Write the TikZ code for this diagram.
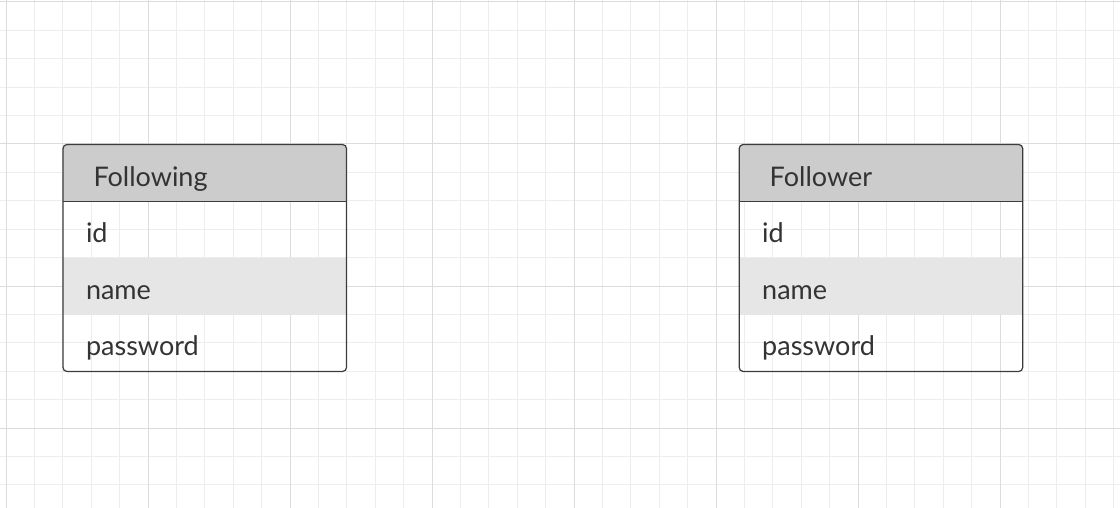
\documentclass[tikz,border=0pt]{standalone}
\usepackage{fontspec}
\setmainfont{Lato}
\usetikzlibrary{positioning}
\definecolor{gridminor}{HTML}{EDEDED}
\definecolor{gridmajor}{HTML}{DCDCDC}
\definecolor{headfill}{HTML}{CCCCCC}
\definecolor{rowfill}{HTML}{E6E6E6}
\definecolor{edgecol}{HTML}{3C3C3C}
\definecolor{textcol}{HTML}{333333}

\begin{document}
\begin{tikzpicture}[x=1pt,y=-1pt,
  cell/.style={minimum width=283.5pt,minimum height=56.75pt,outer sep=0pt,inner ysep=0pt,
    text=textcol,font=\fontsize{27}{27}\selectfont,align=left},
  tabhead/.style={cell,inner xsep=30.5pt,text width=222.5pt,text height=29pt,text depth=1pt},
  field/.style={cell,inner xsep=23pt,text width=237.5pt,text height=27pt,text depth=1.4pt}]
\useasboundingbox (0,0) rectangle (1120,508);
% grid
\foreach \i in {0,...,39} \draw[gridminor, line width=1pt] (6+28.4*\i,0) --++(0,508);
\foreach \j in {0,...,17} \draw[gridminor, line width=1pt] (0,2+28.4*\j) --++(1120,0);
\foreach \i in {0,...,7} \draw[gridmajor, line width=1pt] (6+142*\i,0) --++(0,508);
\foreach \j in {0,...,3} \draw[gridmajor, line width=1pt] (0,2+142*\j) --++(1120,0);
% tables
\foreach \t/\x in {Following/63,Follower/739.2} {
 \coordinate (\t-nw) at (\x,144.5);
 \fill[headfill, rounded corners=4pt] ([yshift=-56.75pt]\t-nw) -- (\t-nw)
   -- ([xshift=283.5pt]\t-nw) -- ([xshift=283.5pt,yshift=-56.75pt]\t-nw);
 \node[tabhead, anchor=north west] (\t-head) at (\t-nw) {\t};
 \node[field, below=0pt of \t-head] (\t-id) {id};
 \node[field, below=0pt of \t-id, fill=rowfill] (\t-name) {name};
 \node[field, below=0pt of \t-name] (\t-pw) {password};
 \draw[edgecol, line width=1.2pt] (\t-head.south west) -- (\t-head.south east);
 \draw[edgecol, line width=1.2pt, rounded corners=4pt] (\t-head.north west) rectangle (\t-pw.south east);
}
\end{tikzpicture}
\end{document}
